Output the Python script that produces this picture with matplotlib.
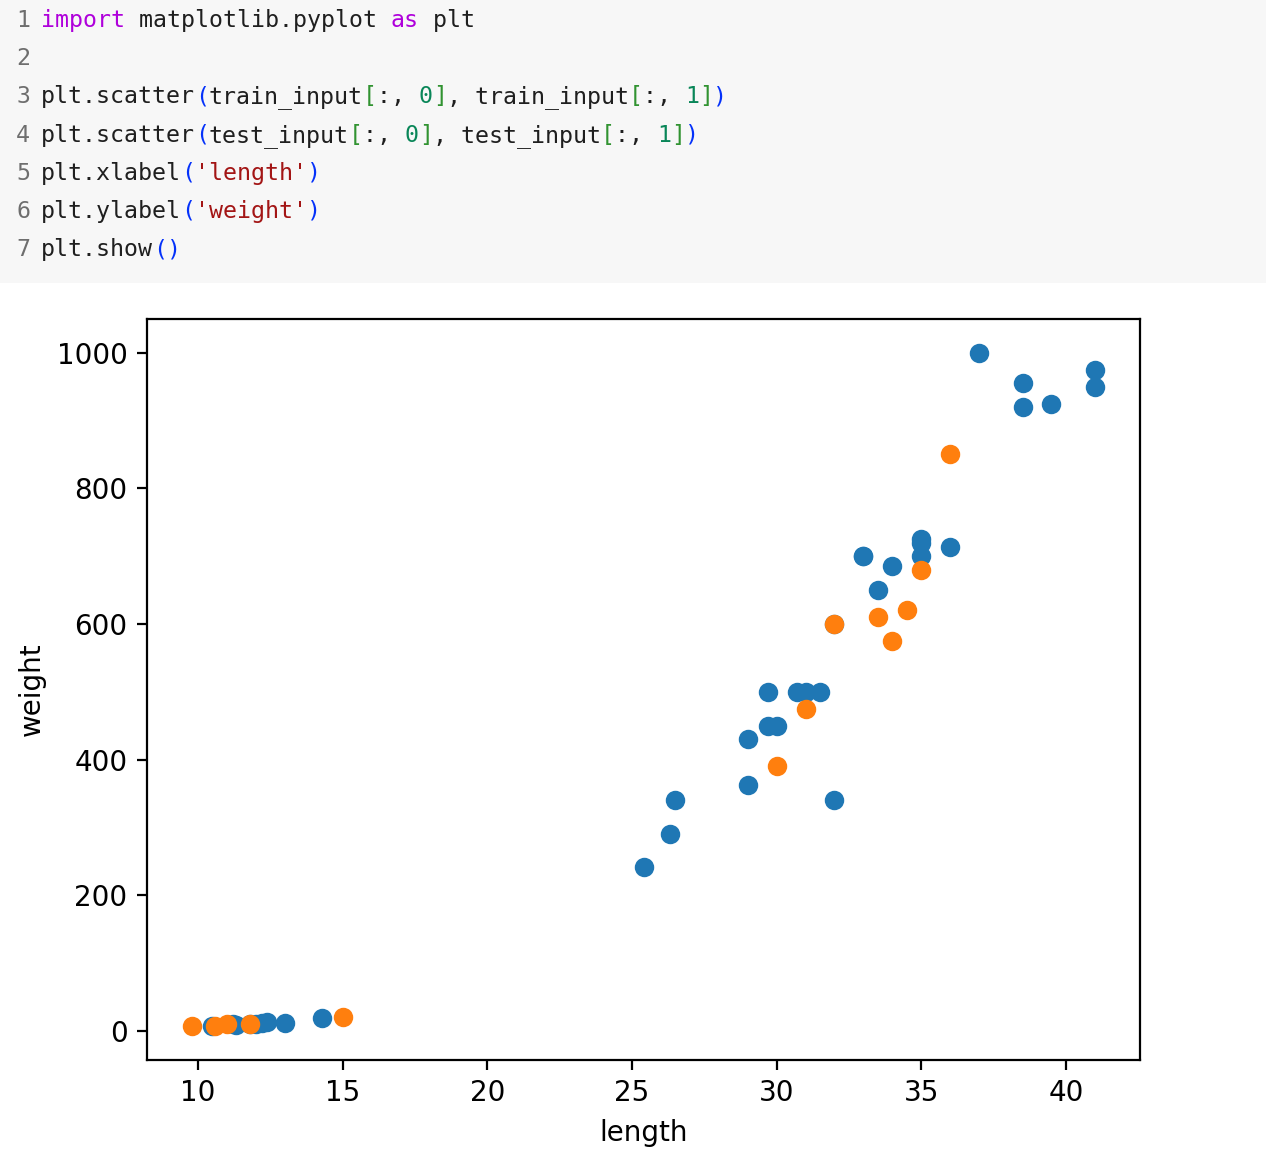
import matplotlib
matplotlib.use('Agg')
import matplotlib.pyplot as plt

# fish data split (length, weight)
train_length = [25.4, 26.3, 26.5, 29.0, 29.0, 29.7, 29.7, 30.0, 30.7, 31.0, 31.5,
                32.0, 32.0, 33.0, 33.0, 33.5, 34.0, 35.0, 35.0, 35.0, 36.0, 37.0,
                38.5, 38.5, 39.5, 41.0, 41.0,
                10.5, 11.2, 11.3, 11.8, 12.0, 12.2, 12.4, 13.0, 14.3]
train_weight = [242.0, 290.0, 340.0, 363.0, 430.0, 450.0, 500.0, 450.0, 500.0, 500.0, 500.0,
                340.0, 600.0, 700.0, 700.0, 650.0, 685.0, 700.0, 725.0, 720.0, 714.0, 1000.0,
                920.0, 955.0, 925.0, 975.0, 950.0,
                7.5, 9.8, 8.7, 10.0, 9.8, 12.2, 13.4, 12.2, 19.7]

test_length = [30.0, 31.0, 32.0, 33.5, 34.0, 34.5, 35.0, 36.0,
               9.8, 10.6, 11.0, 11.8, 15.0]
test_weight = [390.0, 475.0, 600.0, 610.0, 575.0, 620.0, 680.0, 850.0,
               6.7, 7.0, 9.7, 9.9, 19.9]

# code cell shown above the plot: (text, kind) tokens per line
code_lines = [
    [("import", "kw"), (" matplotlib.pyplot ", "txt"), ("as", "kw"), (" plt", "txt")],
    [],
    [("plt.scatter", "txt"), ("(", "par"), ("train_input", "txt"), ("[", "brk"), (":, ", "txt"),
     ("0", "num"), ("]", "brk"), (", train_input", "txt"), ("[", "brk"), (":, ", "txt"),
     ("1", "num"), ("]", "brk"), (")", "par")],
    [("plt.scatter", "txt"), ("(", "par"), ("test_input", "txt"), ("[", "brk"), (":, ", "txt"),
     ("0", "num"), ("]", "brk"), (", test_input", "txt"), ("[", "brk"), (":, ", "txt"),
     ("1", "num"), ("]", "brk"), (")", "par")],
    [("plt.xlabel", "txt"), ("(", "par"), ("'length'", "str"), (")", "par")],
    [("plt.ylabel", "txt"), ("(", "par"), ("'weight'", "str"), (")", "par")],
    [("plt.show", "txt"), ("(", "par"), (")", "par")],
]
token_colors = {"kw": "#af00db", "txt": "#1f1f1f", "par": "#0431fa",
                "brk": "#319331", "num": "#098658", "str": "#a31515"}

W, H = 1266, 1162
fig = plt.figure(figsize=(W / 200, H / 200), dpi=200)

# grey code cell background
bg = fig.add_axes([0, 1 - 283 / H, 1, 283 / H])
bg.set_facecolor('#f7f7f7')
bg.set_xticks([]), bg.set_yticks([])
for sp in bg.spines.values():
    sp.set_visible(False)

char_w = 14.0
fsize = char_w / 0.60205 * 72 / 200
for i, tokens in enumerate(code_lines):
    base_y = 27 + 38.2 * i
    fig.text(16 / W, 1 - base_y / H, str(i + 1), color='#6e6e6e', fontsize=fsize,
             family='DejaVu Sans Mono', va='baseline', ha='left')
    col = 0
    for text, kind in tokens:
        fig.text((41 + col * char_w) / W, 1 - base_y / H, text, color=token_colors[kind],
                 fontsize=fsize, family='DejaVu Sans Mono', va='baseline', ha='left')
        col += len(text)

ax = fig.add_axes([147 / W, (H - 1060) / H, (1140 - 147) / W, (1060 - 319) / H])
ax.scatter(train_length, train_weight)
ax.scatter(test_length, test_weight)
ax.set_xlabel('length')
ax.set_ylabel('weight')

fig.savefig('out.png', dpi=200)
